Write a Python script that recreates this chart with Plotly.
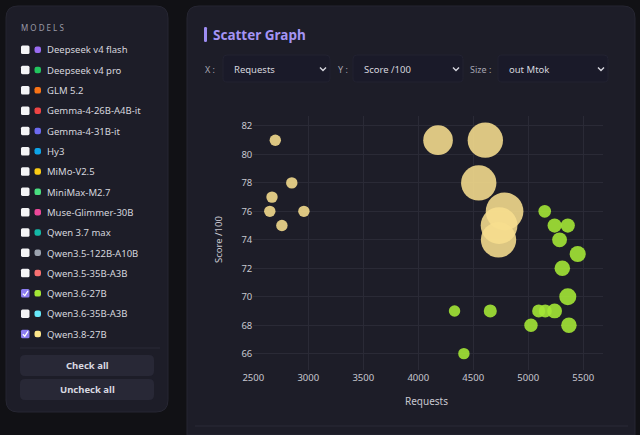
import plotly.graph_objects as go

# models listed in the side panel
model_names = ["Deepseek v4 flash", "Deepseek v4 pro", "GLM 5.2", "Gemma-4-26B-A4B-it",
               "Gemma-4-31B-it", "Hy3", "MiMo-V2.5", "MiniMax-M2.7", "Muse-Glimmer-30B",
               "Qwen 3.7 max", "Qwen3.5-122B-A10B", "Qwen3.5-35B-A3B", "Qwen3.6-27B",
               "Qwen3.6-35B-A3B", "Qwen3.8-27B"]
model_colors = ["#9a6cf2", "#22c55e", "#f97316", "#ef4444", "#6d6af0", "#0ea5e9", "#facc15",
                "#4ade80", "#ec4899", "#14b8a6", "#9ca3af", "#f87171", "#a3e635", "#67e8f9",
                "#fde68a"]
model_checked = ["Qwen3.6-27B", "Qwen3.8-27B"]

# Qwen3.8-27B
q38_requests = [2700, 2850, 2670, 2650, 2960, 2760, 4180, 4610, 4550, 4785, 4735, 4730]
q38_score = [81, 78, 77, 76, 76, 75, 81, 81, 78, 76, 75, 74]
q38_out_mtok = [1.3, 1.3, 1.3, 1.3, 1.3, 1.3, 8.8, 12.5, 12.5, 14.2, 13.5, 12.5]

# Qwen3.6-27B
q36_requests = [5150, 5240, 5360, 5285, 5450, 5310, 5360, 4330, 4655, 5095, 5155, 5240,
                5025, 5370, 4415]
q36_score = [76, 75, 75, 74, 73, 72, 70, 69, 69, 69, 69, 69, 68, 68, 66]
q36_out_mtok = [1.6, 2.0, 2.0, 2.2, 2.6, 2.4, 2.9, 1.3, 1.7, 1.7, 1.7, 2.2, 1.8, 2.4, 1.3]

x_ticks = [2500, 3000, 3500, 4000, 4500, 5000, 5500]
y_ticks = [66, 68, 70, 72, 74, 76, 78, 80, 82]

W, H = 640, 435
PAGE_BG = "#111115"
PANEL_BG = "#1d1d28"
FONT = "Noto Sans"


def px(x):
    return x / W


def py(y):
    return 1 - y / H


def rrect(x0, y0, x1, y1, r, round_bottom=True):
    # rounded rectangle path in paper coords, pixel inputs
    X = lambda v: f"{px(v):.5f}"
    Y = lambda v: f"{py(v):.5f}"
    top = (f"M {X(x0 + r)} {Y(y0)} L {X(x1 - r)} {Y(y0)} Q {X(x1)} {Y(y0)} {X(x1)} {Y(y0 + r)} ")
    if round_bottom:
        bottom = (f"L {X(x1)} {Y(y1 - r)} Q {X(x1)} {Y(y1)} {X(x1 - r)} {Y(y1)} "
                  f"L {X(x0 + r)} {Y(y1)} Q {X(x0)} {Y(y1)} {X(x0)} {Y(y1 - r)} ")
    else:
        bottom = f"L {X(x1)} {Y(y1)} L {X(x0)} {Y(y1)} "
    return top + bottom + f"L {X(x0)} {Y(y0 + r)} Q {X(x0)} {Y(y0)} {X(x0 + r)} {Y(y0)} Z"


def polyline(pts):
    return "M " + " L ".join(f"{px(a):.5f} {py(b):.5f}" for a, b in pts)


shapes = []
annots = []


def text(x, y, s, size=9.5, color="#d6d6de", anchor="left", bold=False, angle=0):
    annots.append(dict(x=px(x), y=py(y), xref="paper", yref="paper", text=f"<b>{s}</b>" if bold else s,
                       showarrow=False, xanchor=anchor, yanchor="middle", textangle=angle,
                       borderpad=0, font=dict(family=FONT, size=size, color=color)))


# panels (kept inside the figure so nothing overflows the page)
shapes.append(dict(type="path", path=rrect(6, 6, 168, 412, 12), xref="paper", yref="paper",
                   fillcolor=PANEL_BG, line=dict(color="#262632", width=1), layer="below"))
shapes.append(dict(type="path", path=rrect(187, 6, 635, 435, 12, round_bottom=False), xref="paper",
                   yref="paper", fillcolor=PANEL_BG, line=dict(color="#262632", width=1), layer="below"))

# side panel list
text(20, 27, "M O D E L S", size=8, color="#9a9aa6")
for i, name in enumerate(model_names):
    yc = 50 + i * 20.3
    if name in model_checked:
        shapes.append(dict(type="path", path=rrect(21, yc - 4.5, 29.5, yc + 4, 1.5), xref="paper",
                           yref="paper", fillcolor="#8b7cf0", line=dict(width=0)))
        shapes.append(dict(type="path", path=polyline([(22.8, yc), (24.8, yc + 2), (28, yc - 2.8)]),
                           xref="paper", yref="paper", line=dict(color="#ffffff", width=1.2)))
    else:
        shapes.append(dict(type="path", path=rrect(21, yc - 4.5, 29.5, yc + 4, 1.5), xref="paper",
                           yref="paper", fillcolor="#f4f4f6", line=dict(width=0)))
    shapes.append(dict(type="path", path=rrect(34.5, yc - 3.5, 41, yc + 3, 2.2), xref="paper",
                       yref="paper", fillcolor=model_colors[i], line=dict(width=0)))
    text(45.5, yc, name, size=9.5)

shapes.append(dict(type="line", x0=px(20), x1=px(160), y0=py(348), y1=py(348), xref="paper",
                   yref="paper", line=dict(color="#2a2a37", width=1)))
for (y0, y1, label) in [(355, 376, "Check all"), (379, 400, "Uncheck all")]:
    shapes.append(dict(type="path", path=rrect(20, y0, 154, y1, 5), xref="paper", yref="paper",
                       fillcolor="#282836", line=dict(width=0)))
    text(87, (y0 + y1) / 2, label, size=9.5, color="#d8d8e0", anchor="center", bold=True)

# main panel header
shapes.append(dict(type="path", path=rrect(204, 27, 207, 42, 1.2), xref="paper", yref="paper",
                   fillcolor="#9d8cf2", line=dict(width=0)))
text(212, 34.5, "Scatter Graph", size=13.5, color="#a494f4", bold=True)

selectors = [("X :", 204, 223, 330, "Requests"), ("Y :", 337, 353, 463, "Score /100"),
             ("Size :", 469, 498, 608, "out Mtok")]
for label, lx, bx0, bx1, val in selectors:
    text(lx, 69, label, size=9, color="#a6a6b2")
    shapes.append(dict(type="path", path=rrect(bx0, 55, bx1, 82, 4), xref="paper", yref="paper",
                       fillcolor="#1a1a29", line=dict(color="#222231", width=1)))
    text(bx0 + 10, 69, val, size=9.5, color="#d6d6de")
    cx = bx1 - 7
    shapes.append(dict(type="path", path=polyline([(cx - 3, 67.5), (cx, 70.5), (cx + 3, 67.5)]),
                       xref="paper", yref="paper", line=dict(color="#d6d6de", width=1.4)))

# chart bottom border
shapes.append(dict(type="line", x0=px(195), x1=px(628), y0=py(426), y1=py(426), xref="paper",
                   yref="paper", line=dict(color="#2a2a37", width=1)))

# axis titles
text(218, 240, "Score /100", size=9.5, color="#c8c8d0", anchor="center", angle=-90)
text(426, 401, "Requests", size=10, color="#c8c8d0", anchor="center")

SIZEREF = 0.02
fig = go.Figure()
fig.add_trace(go.Scatter(x=q38_requests, y=q38_score, mode="markers", name="Qwen3.8-27B",
                         marker=dict(size=q38_out_mtok, sizemode="area", sizeref=SIZEREF,
                                     color="#f7de8e", opacity=0.88, line=dict(width=0))))
fig.add_trace(go.Scatter(x=q36_requests, y=q36_score, mode="markers", name="Qwen3.6-27B",
                         marker=dict(size=q36_out_mtok, sizemode="area", sizeref=SIZEREF,
                                     color="#a3e635", opacity=0.9, line=dict(width=0))))

# automargin off: otherwise plotly pushes the paper area and every shape drifts
axis_common = dict(showgrid=True, gridcolor="#2a2a36", gridwidth=1, zeroline=False, showline=False,
                   ticks="", automargin=False,
                   tickfont=dict(family=FONT, size=9.5, color="#c8c8d0"))
fig.update_layout(
    width=W, height=H, margin=dict(l=0, r=0, t=0, b=0, autoexpand=False),
    paper_bgcolor=PAGE_BG, plot_bgcolor=PANEL_BG,
    showlegend=False, shapes=shapes, annotations=annots,
    xaxis=dict(domain=[px(253.3), px(603)], range=[2500, 5680], tickvals=x_ticks, **axis_common),
    yaxis=dict(domain=[py(370), py(116)], range=[64.85, 82.7], tickvals=y_ticks, **axis_common),
)

fig.write_html("out.html", config={"displayModeBar": False},
               post_script="document.body.style.margin='0';document.body.style.background='#111115';")
